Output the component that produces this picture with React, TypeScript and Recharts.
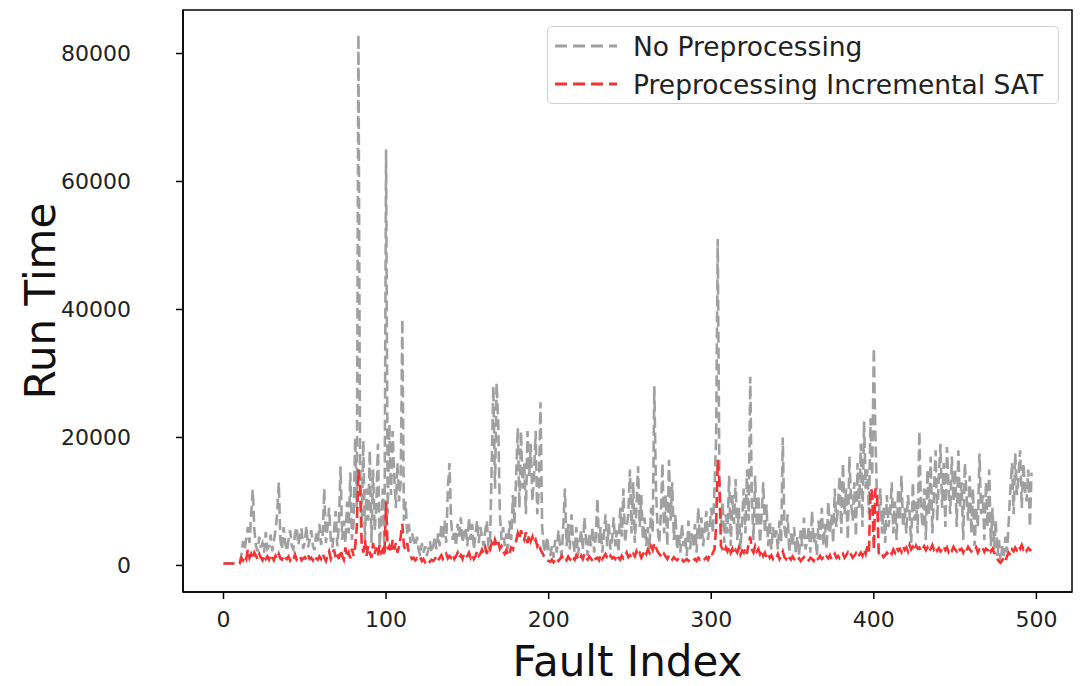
import {Label, Legend, Line, LineChart, ReferenceArea, XAxis, YAxis} from "recharts";

// run time per fault, no preprocessing (index 0..497)
const noPreprocessing = [
    300, 300, 350, 300, 300, 350, 300, 300, 350, 300,
    400, 1500, 3800, 2500, 4200, 6000, 3500, 8000, 11800, 5500,
    3000, 2200, 4500, 2800, 3500, 2000, 5200, 2600, 3000, 4800,
    2200, 3800, 5500, 8000, 13000, 4000, 2500, 6000, 3500, 2200,
    4000, 5500, 3000, 2500, 5000, 6000, 3200, 4500, 5800, 2600,
    3600, 6200, 2800, 4000, 5500, 3000, 2400, 5000, 3800, 6500,
    3200, 4800, 12000, 3500, 6000, 9000, 4000, 2800, 5500, 8500,
    3000, 6500, 15500, 4000, 7000, 3500, 10000, 5000, 14500, 4000,
    6500, 20000, 9000, 83000, 16000, 6000, 19500, 4000, 12000, 7000,
    18000, 3500, 15000, 5500, 9000, 19000, 3000, 7000, 12000, 2000,
    65000, 8000, 22000, 11000, 21000, 14000, 9000, 16000, 10000, 13000,
    38500, 7000, 10000, 5000, 6500, 3500, 5000, 4000, 3000, 4500,
    2500, 1500, 3500, 2000, 3000, 1500, 2500, 3800, 2000, 3000,
    4500, 2500, 5000, 3000, 6500, 4000, 7000, 3500, 12000, 16000,
    7000, 4000, 5500, 3000, 6500, 4500, 7500, 3500, 5000, 6000,
    3000, 7500, 4000, 6500, 2500, 5000, 7000, 3500, 6000, 4500,
    3000, 5500, 7000, 2800, 4000, 16000, 28000, 12000, 28500, 22000,
    8000, 4000, 6000, 3000, 5000, 2500, 7000, 4000, 11000, 6500,
    14000, 21500, 9000, 21000, 12000, 16000, 8000, 21000, 14000, 19000,
    10000, 14000, 21000, 8000, 12000, 25500, 6000, 3000, 2000, 4500,
    2500, 1500, 3000, 1200, 4000, 2000, 5500, 3000, 1500, 6000,
    12000, 3000, 6500, 2500, 8000, 4000, 2000, 6000, 1500, 3500,
    5500, 2500, 7500, 4000, 1500, 5000, 3000, 6000, 2000, 4500,
    10500, 3500, 6000, 2000, 5000, 8000, 3000, 6500, 2500, 4000,
    7500, 3000, 5500, 2000, 9000, 4500, 12000, 3500, 6000, 8000,
    15000, 5000, 13000, 3500, 9000, 15500, 6000, 11000, 4000, 7500,
    3000, 6000, 2500, 9000, 5000, 28000, 12000, 6000, 3500, 8000,
    16000, 5000, 11000, 3000, 16500, 7000, 13000, 4000, 8000, 2500,
    5000, 2000, 6500, 3000, 4500, 1500, 7000, 2500, 5000, 3000,
    6500, 2000, 9000, 4000, 7500, 3000, 5500, 8500, 4000, 6000,
    9000, 5000, 12000, 20000, 51000, 14000, 6000, 10000, 3500, 8000,
    5000, 14000, 3000, 11000, 6500, 13500, 4000, 9000, 2500, 7000,
    12000, 5000, 15000, 7000, 29500, 10000, 4000, 14000, 6000, 11000,
    3500, 8000, 13000, 5000, 9500, 3000, 7000, 2500, 6000, 4000,
    5500, 2500, 7000, 3500, 20000, 6000, 4000, 8000, 2000, 5000,
    3000, 6000, 2000, 4500, 1500, 5500, 3000, 7500, 2500, 4000,
    6000, 2000, 8500, 3500, 5000, 1500, 7000, 4000, 9000, 3000,
    6500, 2500, 10000, 5000, 8000, 3500, 12000, 6000, 9500, 14000,
    5000, 16000, 8000, 12000, 4000, 17000, 10000, 7000, 13000, 4500,
    16000, 9000, 19000, 6000, 22500, 12000, 15000, 8000, 23000, 14000,
    34000, 20000, 10000, 7000, 12000, 5000, 9000, 3500, 11000, 6000,
    8000, 13000, 5000, 10000, 4000, 12000, 7000, 14000, 6000, 9000,
    5000, 11000, 8000, 3500, 13000, 7000, 10000, 5000, 21000, 9000,
    6000, 12000, 4000, 15000, 8000, 17000, 5000, 11000, 18000, 7000,
    14000, 19000, 9000, 16000, 6000, 18500, 12000, 8000, 17000, 10000,
    15000, 6000, 18000, 9000, 13000, 4000, 16000, 11000, 7000, 14000,
    5000, 12000, 3000, 9000, 6000, 17500, 8000, 11000, 4000, 13000,
    6000, 15000, 3000, 9000, 2500, 7000, 1500, 4000, 500, 3000,
    1500, 4500, 2000, 7000, 12000, 16000, 8000, 17500, 11000, 14000,
    18000, 9000, 16000, 12000, 10000, 15000, 6000, 14500,
];

// run time per fault, preprocessing + incremental SAT
const incrementalSat = [
    300, 300, 300, 300, 300, 300, 300, 300, 300, 300,
    300, 1200, 800, 1500, 1000, 2500, 1200, 1800, 1000, 2000,
    1500, 1000, 1800, 1200, 800, 1600, 1000, 1400, 900, 1700,
    1200, 800, 1500, 1000, 1800, 1100, 900, 1600, 1200, 1000,
    1400, 800, 1300, 1000, 1700, 900, 1200, 1500, 800, 1100,
    1300, 900, 1600, 1000, 1200, 800, 1500, 1100, 900, 1400,
    1000, 1800, 1200, 700, 1500, 2200, 1000, 1600, 2500, 1200,
    1800, 1000, 2400, 1500, 900, 2800, 1300, 2000, 1100, 2600,
    1500, 3000, 6000, 15000, 12000, 3500, 2000, 4000, 1500, 3000,
    2000, 1200, 3500, 1800, 2800, 1500, 3200, 2000, 2500, 1500,
    10000, 2500, 3000, 2000, 4000, 2500, 3500, 2000, 3000, 4500,
    6500, 3000, 2500, 3500, 2000, 1500, 1000, 1200, 800, 1100,
    900, 1300, 700, 1000, 500, 800, 400, 600, 900, 700,
    1000, 1400, 800, 1200, 1600, 1000, 1300, 1800, 1100, 1500,
    1200, 1700, 1000, 1400, 2000, 1200, 1600, 1000, 1800, 1300,
    1500, 2000, 1200, 1700, 1000, 1400, 2200, 1500, 1800, 2500,
    2000, 2800, 1800, 3000, 2500, 3500, 2800, 4000, 3200, 3800,
    2600, 3000, 2200, 1800, 2400, 1500, 2000, 2800, 2500, 3500,
    3800, 5000, 4200, 5500, 4500, 4000, 5200, 3500, 4800, 3800,
    4500, 3500, 4000, 3000, 3500, 2500, 2000, 1500, 1000, 800,
    700, 600, 900, 500, 800, 1200, 700, 1000, 1500, 900,
    1200, 800, 1400, 1000, 700, 1300, 900, 1600, 1100, 800,
    1500, 1000, 1800, 1200, 900, 1400, 1100, 700, 1300, 1000,
    1200, 800, 1600, 1000, 1400, 1800, 1200, 900, 1500, 1100,
    1300, 1000, 1700, 1200, 900, 1500, 1100, 1400, 2000, 1300,
    1600, 1200, 1800, 1400, 2200, 1500, 1900, 1200, 1700, 2400,
    1800, 2500, 2000, 3000, 2400, 3500, 2800, 2200, 1800, 1500,
    1200, 1800, 1400, 1000, 1600, 1200, 900, 1300, 1000, 800,
    1100, 700, 900, 600, 800, 1000, 700, 900, 600, 800,
    1000, 700, 1200, 900, 1100, 800, 1000, 1300, 900, 1500,
    1200, 2000, 2500, 6000, 16500, 13000, 3000, 2500, 2000, 2800,
    2200, 3000, 2000, 2600, 1800, 2400, 2000, 2800, 1700, 2300,
    2000, 2700, 1800, 3500, 4500, 2500, 2000, 3000, 2200, 2600,
    1800, 2400, 1500, 2000, 1300, 1800, 1200, 1600, 1000, 1400,
    1200, 1800, 1000, 1500, 2200, 1300, 1000, 1600, 1200, 900,
    1400, 1000, 1200, 800, 1100, 700, 1000, 1300, 900, 1100,
    800, 1200, 1000, 700, 1300, 900, 1100, 1500, 1000, 1200,
    900, 1400, 1100, 1600, 1000, 1300, 1800, 1200, 1500, 1100,
    1400, 1800, 1200, 1600, 2000, 1400, 1700, 1200, 1500, 1900,
    1300, 1600, 2000, 1500, 2500, 1800, 3000, 2200, 12000, 11500,
    2500, 12000, 11000, 2000, 1500, 1800, 1300, 1600, 2000, 1700,
    2200, 1800, 2500, 2000, 2800, 2300, 2600, 2100, 3000, 2400,
    2800, 2200, 3200, 2500, 2900, 2300, 3100, 2600, 2800, 2200,
    2600, 3000, 2400, 2800, 2100, 2600, 3200, 2500, 2900, 2300,
    2700, 2200, 2500, 3000, 2400, 2800, 2100, 2600, 2300, 2900,
    2500, 2200, 2800, 2400, 2600, 2000, 2700, 2300, 2900, 2500,
    2200, 2600, 2400, 2800, 2000, 2500, 2300, 2700, 2100, 2600,
    2400, 2900, 2200, 2600, 2000, 1500, 1000, 600, 400, 800,
    1200, 700, 1500, 2000, 1600, 2500, 2200, 2800, 2400, 3000,
    2600, 3200, 2500, 2800, 2300, 2700, 2400, 2500,
];

const xTicks = [0, 100, 200, 300, 400, 500];
const yTicks = [0, 20000, 40000, 60000, 80000];

const seriesInfo = [
    {key: "noPre", name: "No Preprocessing", color: "#a0a0a0"},
    {key: "incSat", name: "Preprocessing Incremental SAT", color: "#f23434"},
];

const data = noPreprocessing.map((v, i) => ({idx: i, noPre: v, incSat: incrementalSat[i]}));

const FONT = "'DejaVu Sans', sans-serif";

const LegendBox = () => (
    <div style={{
        border: "1.5px solid #d0d0d0", borderRadius: 5, background: "rgba(255,255,255,0.8)",
        padding: "0 10px 0 7px", height: 76, display: "flex", flexDirection: "column",
        justifyContent: "center", fontFamily: FONT, fontSize: 26.5, color: "#222",
    }}>
        {seriesInfo.map(s => (
            <div key={s.key} style={{display: "flex", alignItems: "center", height: 40, whiteSpace: "nowrap"}}>
                <svg width={62} height={10} style={{marginRight: 16, flex: "none"}}>
                    <line x1={0} y1={5} x2={62} y2={5} stroke={s.color} strokeWidth={3} strokeDasharray="12 6"/>
                </svg>
                <span>{s.name}</span>
            </div>
        ))}
    </div>
);

export default function App() {
    return <div style={{position: "absolute", left: 0, top: 0}}>
        <LineChart width={1084} height={686} data={data} margin={{top: 10, right: 12, left: 0, bottom: 0}}>
            <XAxis dataKey="idx" type="number" domain={[-24.9, 521.9]} ticks={xTicks} allowDataOverflow
                   height={94} tickSize={7} tickMargin={12} stroke="#000" strokeWidth={1.5}
                   tick={{fill: "#222", fontSize: 22, fontFamily: FONT}}>
                <Label value="Fault Index" position="insideBottom" offset={10}
                       style={{fill: "#111", fontSize: 42, fontFamily: FONT}}/>
            </XAxis>
            <YAxis type="number" domain={[-4150, 86800]} ticks={yTicks} allowDataOverflow
                   width={183} tickSize={7} tickMargin={45} stroke="#000" strokeWidth={1.5}
                   tick={{fill: "#222", fontSize: 22, fontFamily: FONT}}>
                <Label value="Run Time" angle={-90} position="insideLeft" offset={40}
                       style={{fill: "#111", fontSize: 42, fontFamily: FONT, textAnchor: "middle"}}/>
            </YAxis>
            {seriesInfo.map(s => (
                <Line key={s.key} dataKey={s.key} name={s.name} type="linear" stroke={s.color}
                      strokeWidth={2.6} strokeDasharray="11 5" dot={false} activeDot={false}
                      isAnimationActive={false}/>
            ))}
            <ReferenceArea x1={-24.9} x2={521.9} y1={-4150} y2={86800} fill="none" stroke="#000"
                           strokeWidth={1.5} fillOpacity={0}/>
            <Legend layout="horizontal" verticalAlign="middle" content={LegendBox}
                    wrapperStyle={{position: "absolute", top: 26, left: 547, width: 512, height: 78}}/>
        </LineChart>
    </div>;
}
